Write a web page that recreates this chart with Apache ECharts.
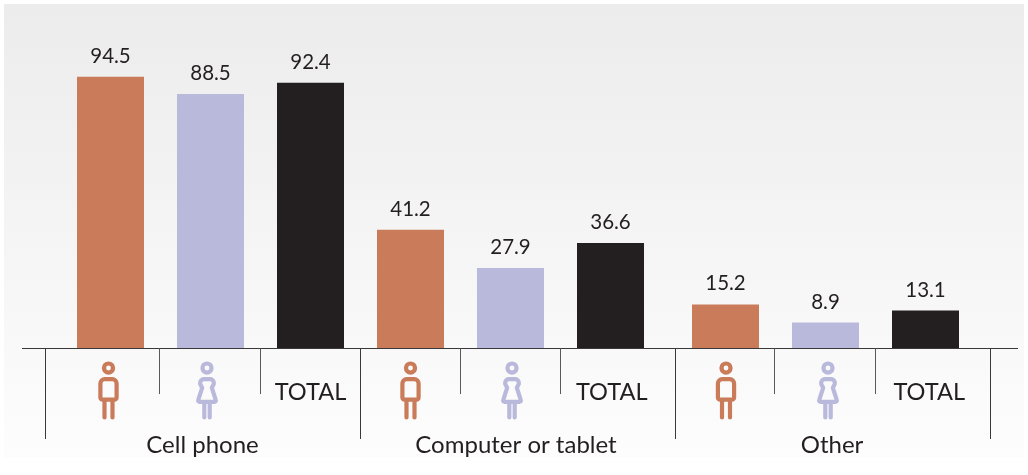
<!DOCTYPE html>
<html><head><meta charset="utf-8">
<style>html,body{margin:0;padding:0;background:#fff}#c{width:1028px;height:475px}</style>
<script src="https://cdn.jsdelivr.net/npm/echarts@6/dist/echarts.min.js"></script>
</head><body><div id="c"></div>
<script>
const groups = ['Cell phone','Computer or tablet','Other'];
const tickLabels = ['','','TOTAL'];
const men = [94.5,41.2,15.2];
const women = [88.5,27.9,8.9];
const total = [92.4,36.6,13.1];
const colors = ['#c97b5a','#b9b9dc','#231f20'];
const ink = '#231f20';
const font = 'Lato';

const gridLeft = [60.5,360.5,675.5];
const base = 348;
const line = 348.5;
const chart = echarts.init(document.getElementById('c'));

const man = 'M0,-23 a4.2,4.2 0 1 0 0.01,0 Z M-3.5,-8.5 h7 a4,4 0 0 1 4,4 v13 a2,2 0 0 1 -2,2 h-1.8 v16.5 M-3.5,-8.5 a4,4 0 0 0 -4,4 v13 a2,2 0 0 0 2,2 h1.8 v16.5 M3.7,10.5 h-7.4';
const woman = 'M0,-23 a4.2,4.2 0 1 0 0.01,0 Z M-3,-8.5 h6 a3.5,3.5 0 0 1 3,5 l-1.5,3 l3.5,11 a1.5,1.5 0 0 1 -1.5,2 h-4 v14.5 M-3,-8.5 a3.5,3.5 0 0 0 -3,5 l1.5,3 l-3.5,11 a1.5,1.5 0 0 0 1.5,2 h4 v14.5 M-2.5,12.5 h5';
const iconOffset = [[-2,-3.5],[0,1.5],[0.5,2.5]];
const totalShift = [0,2.5,7.5];

const graphic = [
  {type:'rect',z:-10,silent:true,shape:{x:4,y:4,width:1020,height:454},
   style:{fill:new echarts.graphic.LinearGradient(0,0,0,1,[{offset:0,color:'#ececec'},{offset:1,color:'#fdfdfd'}])}},
  {type:'line',z:5,silent:true,shape:{x1:22,y1:line,x2:1018,y2:line},style:{stroke:'#3a3839',lineWidth:1.2}}
];
[45,360,675,990].forEach(x=>graphic.push({type:'line',z:5,silent:true,shape:{x1:x+.5,y1:line,x2:x+.5,y2:439},style:{stroke:'#3a3839',lineWidth:1}}));
[160,261,461,561,775,876].forEach(x=>graphic.push({type:'line',z:5,silent:true,shape:{x1:x-.5,y1:line,x2:x-.5,y2:394},style:{stroke:'#5a5859',lineWidth:1}}));
[[202.5,0],[516,1],[832,2]].forEach(([x,i])=>graphic.push({type:'text',z:6,silent:true,x:x,y:445,
  style:{text:groups[i],fill:ink,font:'24px '+font,textAlign:'center',textVerticalAlign:'middle'}}));

const opt = {
  animation:false,
  backgroundColor:'#fff',
  graphic:graphic,
  grid:gridLeft.map(l=>({left:l,width:300,top:base-287,height:287})),
  xAxis:gridLeft.map((l,i)=>({type:'category',gridIndex:i,data:[groups[i]+' men',groups[i]+' women',groups[i]+' total'],
    axisLine:{show:false},axisTick:{show:false},
    axisLabel:{margin:31,interval:0,color:ink,fontFamily:font,fontSize:23.6,lineHeight:26,
      padding:[0,0,0,totalShift[i]],
      formatter:(v,idx)=>tickLabels[idx]}})),
  yAxis:gridLeft.map((l,i)=>({type:'value',gridIndex:i,min:0,max:100,show:false})),
  series:gridLeft.map((l,i)=>({type:'bar',xAxisIndex:i,yAxisIndex:i,barWidth:67,
    data:[men[i],women[i],total[i]].map((v,j)=>({value:v,itemStyle:{color:colors[j]}})),
    label:{show:true,position:'top',distance:10,color:ink,fontFamily:font,fontSize:20.5,
      formatter:p=>p.value.toFixed(1)}})).concat(gridLeft.map((l,i)=>({
    type:'custom',xAxisIndex:i,yAxisIndex:i,clip:false,silent:true,z:6,
    encode:{x:0,y:1},
    data:[[0,0],[1,0]],
    renderItem:(params,api)=>{
      const j=api.value(0);
      const p=api.coord([j,0]);
      return {type:'path',
        shape:{pathData:j===0?man:woman,layout:'center',
          x:p[0]+iconOffset[i][j]-12,y:p[1]+15.5,width:24,height:54},
        style:{fill:'none',stroke:colors[j],lineWidth:4.2,lineCap:'round',lineJoin:'round'}};
    }})))
};
chart.setOption(opt);
</script></body></html>
